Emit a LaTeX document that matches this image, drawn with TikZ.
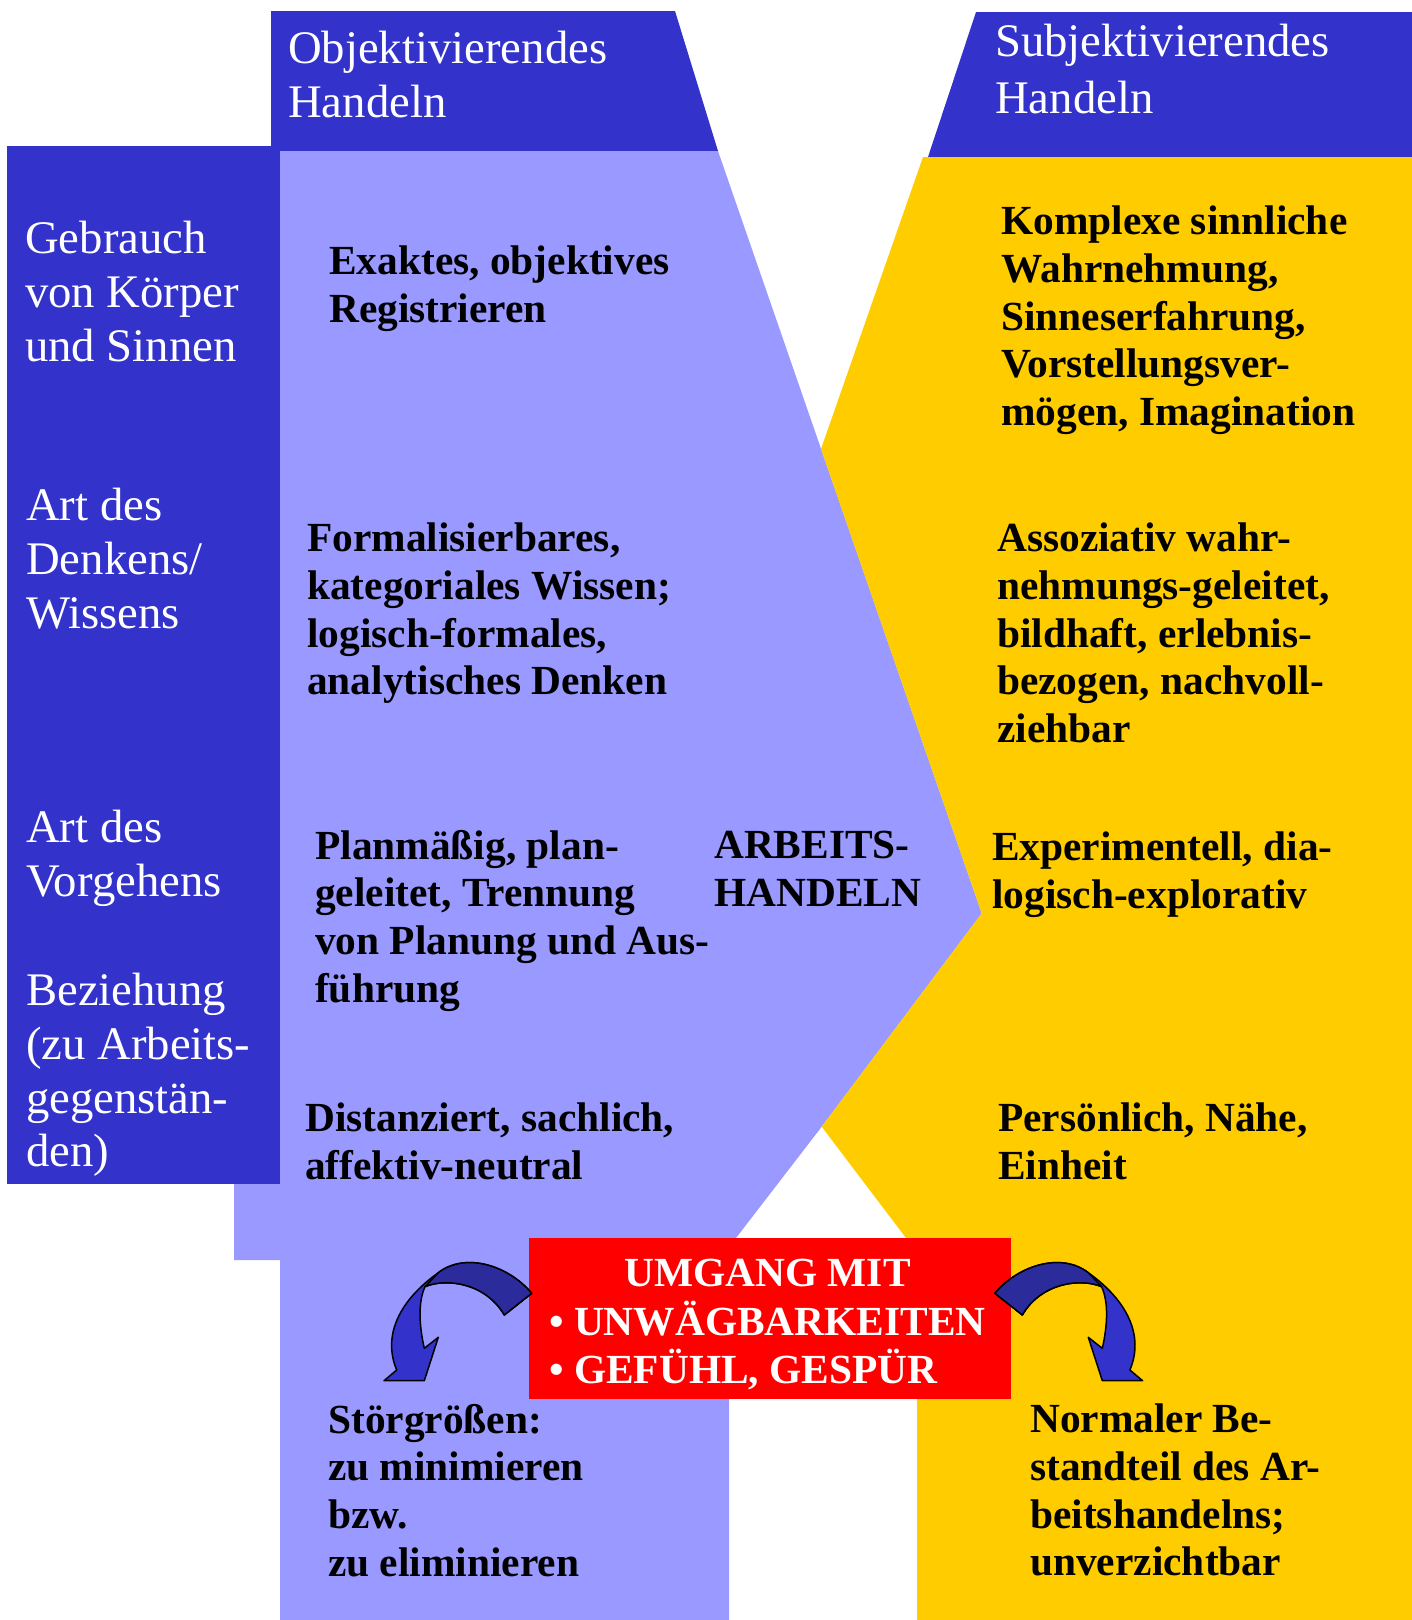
\documentclass[tikz,border=0pt]{standalone}
\usepackage{fontspec}
\setmainfont{Liberation Serif}
\definecolor{headblue}{RGB}{51,51,204}
\definecolor{lilac}{RGB}{153,153,255}
\definecolor{gold}{RGB}{255,204,0}
\definecolor{bandblue}{RGB}{43,43,155}

\begin{document}
\begin{tikzpicture}[x=1pt, y=-1pt,
  rowlabel/.style={anchor=north west, inner sep=0pt, align=left, text=white,
    font=\fontsize{46.7}{53.7}\selectfont},
  cell/.style={anchor=north west, inner sep=0pt, align=left,
    font=\fontsize{41.4}{47.6}\selectfont\bfseries},
  bentarrow/.style={draw=black, line width=1.5pt, line join=round}]
\useasboundingbox (0,0) rectangle (1412,1620);

% columns and headers
\fill[headblue] (7,146) rectangle (280,1184);
\fill[headblue] (271,11) -- (675,11) -- (718,151) -- (271,151) -- cycle;
\fill[headblue] (976,12) -- (1412,12) -- (1412,157) -- (928,157) -- cycle;
\fill[lilac] (280,151) -- (718,151) -- (981.7,913.3) -- (821.7,1126.7)
             -- (736,1238) -- (729,1238) -- (729,1620) -- (280,1620)
             -- (280,1260) -- (234,1260) -- (234,1184) -- (280,1184) -- cycle;
\fill[gold] (923,157) -- (1412,157) -- (1412,1620) -- (917,1620) -- (917,1238)
            -- (906,1238) -- (821.7,1126.7) -- (981.7,913.3) -- (821,449) -- cycle;

% red box
\node[fill=red, minimum width=482, minimum height=161, inner sep=0pt,
      anchor=north west] (umgang) at (529,1238) {};
\node[cell, text=white] (umgangtext) at (549,1253)
  {\begin{tabular}{@{}l@{}}\multicolumn{1}{@{}c@{}}{UMGANG MIT}\\
   \textbullet\ UNWÄGBARKEITEN\\ \textbullet\ GEFÜHL, GESPÜR\end{tabular}};

% curved arrows
\foreach \flip/\shift in {1/0, -1/1526.6} {
  \begin{scope}[xshift=\shift pt, xscale=\flip]
  \filldraw[bentarrow, fill=headblue] (531.7,1293.3)
      .. controls (508,1265) and (465,1252) .. (438.3,1272.7)
      .. controls (400,1300) and (382,1335) .. (396.7,1370)
      -- (384,1380.7) -- (424.3,1380.7) -- (438.3,1337.3) -- (424.3,1348.3)
      .. controls (419,1325) and (418,1302) .. (425,1286.7)
      .. controls (445,1278) and (485,1282) .. (504.3,1315) -- cycle;
  \filldraw[bentarrow, fill=bandblue] (531.7,1293.3)
      .. controls (508,1265) and (465,1252) .. (438.3,1272.7) -- (425,1286.7)
      .. controls (445,1278) and (485,1282) .. (504.3,1315) -- cycle;
  \end{scope}
}

% headers
\node[rowlabel] (objhead) at (288,31) {Objektivierendes\\Handeln};
\node[rowlabel, font=\fontsize{46.7}{56.5}\selectfont] (subjhead) at (995,24)
  {Subjektivierendes\\Handeln};

% row labels
\node[rowlabel] (koerper) at (25,221) {Gebrauch\\von Körper\\und Sinnen};
\node[rowlabel] (denken) at (26,488) {Art des\\Denkens/\\Wissens};
\node[rowlabel] (vorgehen) at (26,810) {Art des\\Vorgehens};
\node[rowlabel] (beziehung) at (26,973) {Beziehung\\(zu Arbeits-\\gegenstän-\\den)};

% objective side
\node[cell] (exakt) at (329,246) {Exaktes, objektives\\Registrieren};
\node[cell] (formal) at (307,523) {Formalisierbares,\\kategoriales Wissen;\\logisch-formales,\\analytisches Denken};
\node[cell] (plan) at (315,830) {Planmäßig, plan-\\geleitet, Trennung\\von Planung und Aus-\\führung};
\node[cell] (distanz) at (305,1103) {Distanziert, sachlich,\\affektiv-neutral};
\node[cell] (arbeit) at (714,831) {ARBEITS-\\HANDELN};
\node[cell] (stoer) at (328,1404) {Störgrößen:\\zu minimieren\\bzw.\\zu eliminieren};

% subjective side
\node[cell] (komplex) at (1001,206) {Komplexe sinnliche\\Wahrnehmung,\\Sinneserfahrung,\\Vorstellungsver-\\mögen, Imagination};
\node[cell] (assoz) at (997,523) {Assoziativ wahr-\\nehmungs-geleitet,\\bildhaft, erlebnis-\\bezogen, nachvoll-\\ziehbar};
\node[cell] (experiment) at (992,832) {Experimentell, dia-\\logisch-explorativ};
\node[cell] (persoenlich) at (998,1103) {Persönlich, Nähe,\\Einheit};
\node[cell] (normal) at (1030,1404) {Normaler Be-\\standteil des Ar-\\beitshandelns;\\unverzichtbar};
\end{tikzpicture}
\end{document}
